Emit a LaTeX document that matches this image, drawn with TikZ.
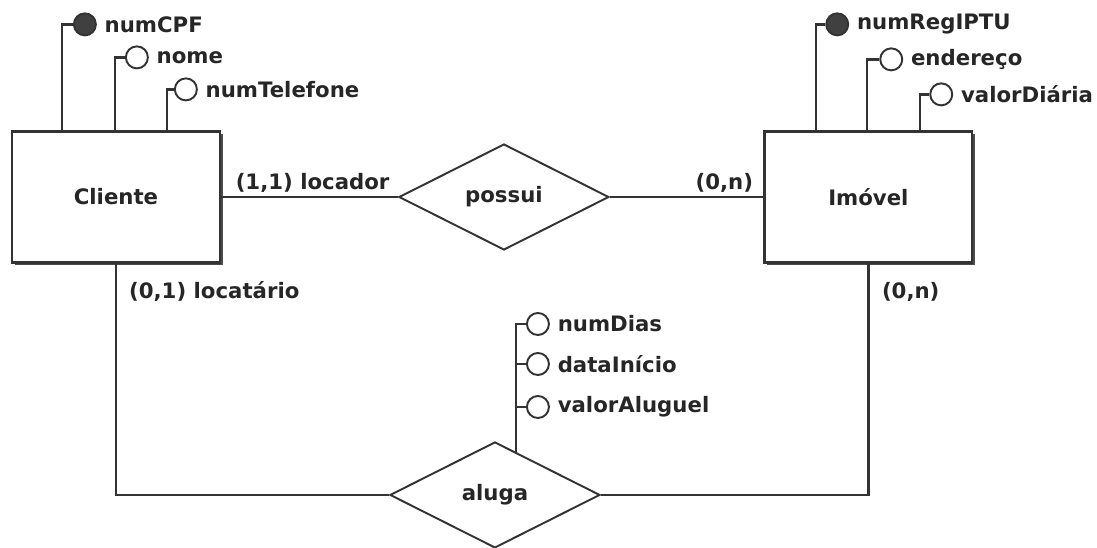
\documentclass[tikz,border=0pt]{standalone}
\usepackage{fontspec}
\setmainfont{DejaVu Sans}
\usepackage{tikz}
\usetikzlibrary{
  calc, % for points on the boxes
  shapes.geometric, % for the diamonds
  shadows}
\definecolor{linegray}{HTML}{333333}
\tikzstyle{entity} = [draw=linegray, line width=1.3pt, fill=white, minimum width=4.16cm, minimum height=2.62cm, drop shadow={shadow xshift=1.6pt, shadow yshift=-1.6pt, fill=black!70, opacity=1}]
\tikzstyle{relation} = [draw=linegray, line width=1.1pt, fill=white, diamond, aspect=2, minimum width=4.2cm, minimum height=2.12cm, inner sep=0pt]
\tikzstyle{attrib} = [draw=linegray, line width=1.1pt, circle, fill=white, minimum size=.44cm, inner sep=0pt]
\tikzstyle{key} = [attrib, fill=black!75]
\tikzstyle{attrtext} = [inner sep=2pt, label distance=.08cm]
\tikzstyle{link} = [draw=linegray, line width=1.3pt]
\tikzstyle{card} = [inner sep=2pt]

\begin{document}
\begin{tikzpicture}[ x=0.02cm, y=-0.02cm, font=\fontsize{12.1}{14}\selectfont\bfseries, text=black!85 ]

\useasboundingbox (0,0) rectangle (1097,547);

\node[entity] (cli) at (116,197) {Cliente};
\node[relation,right of=cli,node distance=7.76cm] (pss) {possui}
  edge[link] node[card,pos=1,anchor=south west,xshift=.2cm] {(1,1) locador} (cli);
\node[entity,right of=pss,node distance=7.29cm] (imo) {Imóvel}
  edge[link] node[card,pos=0,anchor=south east,xshift=-.11cm] {(0,n)} (pss);
\node[relation,below of=pss,node distance=5.96cm,xshift=-.18cm] (alg) {aluga};

\draw[link] (cli) |- node[card,pos=0,anchor=west,xshift=.17cm,yshift=-.56cm] {(0,1) locatário} (alg);
\draw[link] (imo) |- node[card,pos=0,anchor=west,xshift=.18cm,yshift=-.56cm] {(0,n)} (alg);

% Cliente
\node[key] (cpf) at ($(cli.north west)+(74,-106)$) [label={[attrtext]right:numCPF}] {};
\node[attrib] (nome) at ($(cli.north west)+(126,-73)$) [label={[attrtext]right:nome}] {};
\node[attrib] (tel) at ($(cli.north west)+(175,-41)$) [label={[attrtext]right:numTelefone}] {};
\coordinate (cli1) at ($(cli.north west)+(51,0)$);
\coordinate (cli2) at ($(cli.north west)+(104,0)$);
\coordinate (cli3) at ($(cli.north west)+(156,0)$);
\draw[link] (cpf) -| (cli1);
\draw[link] (nome) -| (cli2);
\draw[link] (tel) -| (cli3);

% Imovel
\node[key] (iptu) at ($(imo.north west)+(74,-106)$) [label={[attrtext]right:numRegIPTU}] {};
\node[attrib] (ender) at ($(imo.north west)+(128,-71)$) [label={[attrtext]right:endereço}] {};
\node[attrib] (diaria) at ($(imo.north west)+(178,-36)$) [label={[attrtext]right:valorDiária}] {};
\coordinate (imo1) at ($(imo.north west)+(53,0)$);
\coordinate (imo2) at ($(imo.north west)+(104,0)$);
\coordinate (imo3) at ($(imo.north west)+(157,0)$);
\draw[link] (iptu) -| (imo1);
\draw[link] (ender) -| (imo2);
\draw[link] (diaria) -| (imo3);

% aluga
\coordinate (alg1) at ($(alg.north)!.2!(alg.east)$);
\node[attrib] (dias) at ($(alg.north)+(43,-117)$) [label={[attrtext]right:numDias}] {};
\node[attrib] (inicio) at ($(alg.north)+(43,-77)$) [label={[attrtext]right:dataInício}] {};
\node[attrib] (aluguel) at ($(alg.north)+(43,-34)$) [label={[attrtext]right:valorAluguel}] {};
\draw[link] (alg1) |- (dias);
\draw[link] (alg1) |- (inicio);
\draw[link] (alg1) |- (aluguel);

\end{tikzpicture}
\end{document}
